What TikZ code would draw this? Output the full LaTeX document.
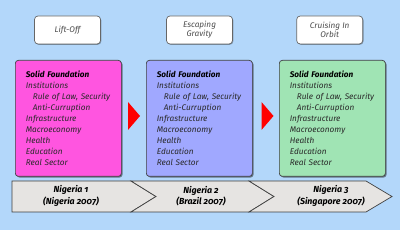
\documentclass[tikz,border=0pt]{standalone}
\usepackage{fontspec}
\setmainfont{Fira Sans}[Numbers=OldStyle]
\usetikzlibrary{shadows,calc}
\definecolor{bgc}{RGB}{179,215,250}
\definecolor{pinkc}{RGB}{255,85,224}
\definecolor{bluec}{RGB}{160,168,255}
\definecolor{greenc}{RGB}{160,228,180}
\definecolor{chevc}{RGB}{230,228,226}
\definecolor{edgec}{RGB}{64,64,64}
\definecolor{txtc}{RGB}{40,40,40}
\tikzset{
  stagebox/.style={draw=edgec, line width=0.7pt, rounded corners=3pt, anchor=north west,
    minimum width=106pt, minimum height=116pt, text width=85pt, inner xsep=10.5pt,
    align=left, font=\fontsize{8.2}{11}\selectfont\itshape, text=txtc,
    drop shadow={shadow xshift=1.2pt, shadow yshift=-1.2pt, opacity=0.45, fill=black}},
  labelbox/.style={draw=gray!80!black, line width=0.7pt, rounded corners=3.5pt, fill=white,
    minimum width=66pt, minimum height=28pt, align=center, inner sep=1pt,
    font=\fontsize{8.2}{8.8}\selectfont\itshape, text=black!70,
    drop shadow={shadow xshift=0.8pt, shadow yshift=-0.8pt, opacity=0.3, fill=black}},
  chev/.style={draw=edgec, line width=0.7pt, fill=chevc},
  chevtext/.style={align=center, font=\fontsize{8.8}{11.5}\selectfont\bfseries\itshape, inner sep=0pt},
  pointer/.style={fill=red}
}
\newcommand{\stagetext}{\mbox{\textbf{\textcolor{black}{Solid Foundation}}}\\
Institutions\\
\mbox{\hspace*{7pt}Rule of Law, Security}\\
\mbox{\hspace*{7pt}Anti-Curruption}\\
Infrastructure\\
Macroeconomy\\
Health\\
Education\\
Real Sector}
\begin{document}
\begin{tikzpicture}[x=1pt,y=-1pt]
\fill[bgc] (0,0) rectangle (400,230);
\useasboundingbox (0,0) rectangle (400,230);

% top labels
\node[labelbox] (l1) at (67.5,30) {Lift-Off};
\node[labelbox] (l2) at (199.5,30) {Escaping\\Gravity};
\node[labelbox] (l3) at (329.7,30) {Cruising In\\Orbit};

% stage boxes
\node[stagebox, fill=pinkc] (s1) at (15,60) {\stagetext};
\node[stagebox, fill=bluec] (s2) at (146,60) {\stagetext};
\node[stagebox, fill=greenc] (s3) at (279,60) {\stagetext};

% red pointers
\fill[pointer] (128,102) -- (140,116) -- (128,130) -- cycle;
\fill[pointer] (261.5,102) -- (273.5,116) -- (261.5,130) -- cycle;

% chevrons
\draw[chev] (12,181) -- (131,181) -- (156,196.5) -- (131,212) -- (12,212) -- cycle;
\draw[chev] (131,181) -- (249,181) -- (274,196.5) -- (249,212) -- (131,212) -- (156,196.5) -- cycle;
\draw[chev] (249,181) -- (366,181) -- (392,196.5) -- (366,212) -- (249,212) -- (274,196.5) -- cycle;

\node[chevtext] (c1) at (71,196) {Nigeria 1\\(Nigeria 2007)};
\node[chevtext] (c2) at (201,196) {Nigeria 2\\(Brazil 2007)};
\node[chevtext] (c3) at (331,196) {Nigeria 3\\(Singapore 2007)};
\end{tikzpicture}
\end{document}
